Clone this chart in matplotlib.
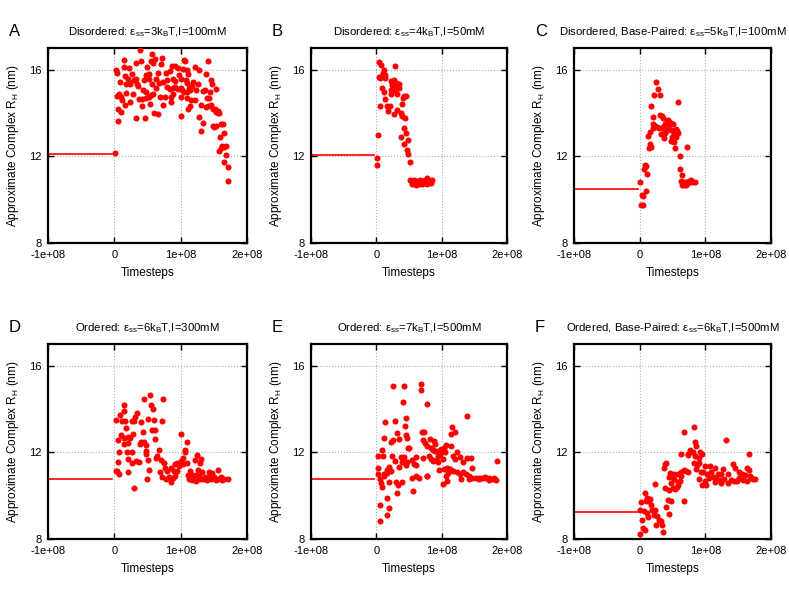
import matplotlib
matplotlib.use("Agg")
import matplotlib.pyplot as plt

plt.rcParams['font.family'] = ['Liberation Sans', 'DejaVu Sans']
plt.rcParams['mathtext.fontset'] = 'custom'
plt.rcParams['mathtext.rm'] = 'Liberation Sans'

# time in units of 1e8 timesteps, R_H in nm
tA = [0.39, 0.57, 0.72, 0.14, 0.62, 0.56, 0.33, 0.40, 0.71, 0.59, 0.49, 0.87, 0.92, 0.96, 1.05, 1.07, 1.41, 1.22,
      1.27, 1.03, 1.10, 0.03, 0.04, 0.14, 0.22, 0.84, 0.78, 0.66, 0.52, 0.48, 0.97, 1.11, 1.38, 0.16, 0.26, 0.20,
      0.29, 0.33, 0.22, 0.24, 0.09, 0.17, 0.34, 0.44, 0.52, 0.63, 0.73, 0.80, 0.89, 0.92, 1.01, 1.10, 1.19, 1.26,
      1.08, 1.45, 1.47, 0.67, 0.57, 0.36, 0.63, 0.79, 0.84, 0.88, 0.92, 0.96, 1.01, 1.13, 1.17, 1.23, 1.37, 1.44,
      1.53, 1.33, 1.02, 1.05, 1.09, 1.14, 0.07, 0.04, 0.18, 0.28, 0.43, 0.47, 0.53, 0.55, 0.58, 0.69, 0.76, 0.85,
      0.88, 1.00, 1.09, 1.15, 1.21, 1.40, 1.43, 0.10, 0.12, 0.37, 0.41, 0.48, 0.06, 0.10, 0.16, 0.23, 0.41, 0.54,
      0.73, 0.85, 1.14, 1.11, 1.30, 1.38, 1.41, 1.45, 1.48, 1.52, 1.56, 1.54, 1.57, 1.58, 1.28, 1.01, 0.60, 0.66,
      0.33, 0.46, 0.06, 1.34, 1.31, 1.49, 1.54, 1.61, 1.64, 1.51, 1.65, 1.60, 1.63, 1.65, 1.69, 1.61, 1.58, 1.68,
      1.66, 1.71, 1.72, 0.01]
rA = [16.90, 16.74, 16.56, 16.46, 16.49, 16.40, 16.31, 16.40, 16.25, 16.31, 16.12, 16.15, 16.15, 16.09, 16.43,
      16.40, 16.40, 16.12, 16.00, 16.03, 16.00, 16.00, 15.85, 16.12, 16.09, 15.94, 15.85, 15.85, 15.81, 15.75,
      15.75, 15.81, 15.78, 15.69, 15.78, 15.57, 15.51, 15.57, 15.44, 15.35, 15.41, 15.35, 15.35, 15.51, 15.57,
      15.57, 15.44, 15.54, 15.57, 15.47, 15.57, 15.38, 15.44, 15.35, 15.51, 15.51, 15.32, 15.38, 15.32, 15.26,
      15.14, 15.20, 15.10, 15.14, 15.20, 15.10, 15.14, 15.17, 15.23, 15.04, 15.04, 14.98, 15.10, 15.01, 15.04,
      14.98, 14.98, 15.04, 14.89, 14.80, 14.92, 14.89, 15.07, 14.98, 14.73, 14.83, 14.89, 14.73, 14.76, 14.73,
      14.89, 14.73, 14.67, 14.61, 14.61, 14.70, 14.67, 14.73, 14.58, 14.64, 14.64, 14.67, 14.18, 14.05, 14.36,
      14.49, 14.33, 14.42, 14.36, 14.52, 14.33, 14.18, 14.39, 14.30, 14.33, 14.36, 14.18, 14.18, 14.02, 14.05,
      14.08, 13.99, 13.81, 13.87, 13.99, 13.96, 13.75, 13.78, 13.65, 13.53, 13.19, 13.41, 13.41, 13.47, 13.47,
      13.34, 13.07, 12.88, 12.48, 12.45, 12.48, 12.39, 12.23, 12.08, 11.74, 11.49, 10.87, 12.14]

tB = [0.04, 0.07, 0.11, 0.10, 0.13, 0.04, 0.08, 0.06, 0.14, 0.29, 0.23, 0.27, 0.30, 0.34, 0.24, 0.27, 0.31, 0.34,
      0.29, 0.08, 0.11, 0.22, 0.23, 0.14, 0.32, 0.43, 0.45, 0.41, 0.06, 0.16, 0.21, 0.18, 0.27, 0.31, 0.37, 0.39,
      0.44, 0.40, 0.43, 0.45, 0.38, 0.48, 0.42, 0.47, 0.49, 0.03, 0.01, 0.01, 0.51, 0.52, 0.55, 0.59, 0.63, 0.65,
      0.68, 0.72, 0.75, 0.78, 0.81, 0.84, 0.54, 0.61, 0.70, 0.77, 0.57, 0.67, 0.74, 0.80, 0.85]
rB = [16.34, 16.22, 16.00, 15.85, 15.75, 15.66, 15.72, 15.63, 15.63, 16.18, 15.48, 15.51, 15.38, 15.32, 15.29,
      15.20, 15.17, 15.17, 15.08, 15.14, 14.95, 15.05, 14.86, 14.65, 14.86, 14.80, 14.80, 14.71, 14.34, 14.31,
      14.31, 14.09, 13.97, 14.12, 14.00, 13.88, 13.78, 14.40, 13.29, 13.08, 12.89, 12.77, 12.55, 12.31, 12.12,
      12.98, 11.91, 11.60, 11.75, 10.89, 10.80, 10.74, 10.86, 10.74, 10.80, 10.86, 10.77, 10.98, 10.86, 10.77,
      10.71, 10.68, 10.71, 10.74, 10.92, 10.92, 10.89, 10.80, 10.89]

tC = [0.25, 0.28, 0.22, 0.31, 0.59, 0.18, 0.21, 0.31, 0.34, 0.36, 0.41, 0.43, 0.45, 0.48, 0.51, 0.44, 0.39, 0.20,
      0.23, 0.26, 0.29, 0.35, 0.21, 0.37, 0.41, 0.48, 0.55, 0.57, 0.15, 0.39, 0.33, 0.53, 0.59, 0.12, 0.37, 0.49,
      0.56, 0.47, 0.53, 0.15, 0.14, 0.18, 0.54, 0.72, 0.61, 0.08, 0.07, 0.09, 0.11, 0.62, 0.64, 0.01, 0.09, 0.03,
      0.05, 0.02, 0.05, 0.63, 0.66, 0.68, 0.70, 0.73, 0.75, 0.78, 0.80, 0.84, 0.65, 0.71]
rC = [15.43, 15.12, 14.84, 14.84, 14.50, 14.32, 13.82, 13.92, 13.85, 13.79, 13.64, 13.67, 13.58, 13.54, 13.48,
      13.45, 13.51, 13.48, 13.42, 13.36, 13.30, 13.36, 13.30, 13.27, 13.20, 13.20, 13.27, 13.17, 13.14, 13.08,
      13.02, 13.02, 13.08, 12.93, 12.83, 12.90, 12.90, 12.71, 12.65, 12.56, 12.37, 12.43, 12.40, 12.43, 12.03,
      11.60, 11.41, 11.54, 11.17, 11.41, 11.14, 10.80, 10.39, 10.21, 10.15, 9.75, 9.75, 10.86, 10.80, 10.70,
      10.83, 10.76, 10.86, 10.89, 10.83, 10.83, 10.70, 10.67]

tD = [0.54, 0.44, 0.74, 0.15, 0.56, 0.59, 0.08, 0.14, 0.34, 0.31, 0.29, 0.26, 0.40, 0.51, 0.60, 0.72, 0.02, 0.12,
      0.16, 0.18, 0.57, 0.61, 0.43, 0.10, 0.05, 0.15, 0.20, 0.24, 0.28, 1.01, 0.62, 1.09, 0.40, 0.45, 0.39, 0.47,
      0.14, 0.21, 0.48, 0.47, 0.26, 0.07, 0.19, 0.68, 1.06, 1.07, 1.24, 1.30, 0.65, 0.63, 0.70, 0.75, 0.21, 0.27,
      0.32, 0.37, 0.51, 0.06, 0.92, 0.95, 1.01, 1.04, 1.09, 1.21, 1.29, 0.76, 0.80, 0.86, 0.90, 0.95, 0.98, 1.03,
      0.20, 0.04, 0.02, 0.07, 0.53, 0.69, 0.72, 0.78, 0.82, 0.85, 0.88, 0.92, 0.49, 0.29, 1.14, 1.16, 1.19, 1.26,
      1.28, 1.32, 1.37, 1.42, 1.47, 1.56, 1.12, 1.17, 1.23, 1.29, 1.34, 1.40, 1.46, 1.51, 1.57, 1.61, 1.66, 1.71,
      1.11, 1.23, 1.43, 1.53, 1.63]
rD = [14.64, 14.48, 14.45, 14.17, 14.17, 14.02, 13.71, 13.89, 13.80, 13.61, 13.43, 13.43, 13.40, 13.52, 13.49,
      13.43, 13.49, 13.46, 13.46, 13.12, 13.02, 13.02, 12.93, 12.78, 12.59, 12.65, 12.71, 12.68, 12.84, 12.84,
      12.62, 12.50, 12.47, 12.50, 12.37, 12.34, 12.40, 12.43, 12.06, 11.94, 12.03, 12.03, 12.00, 12.09, 12.12,
      12.03, 11.88, 11.69, 11.81, 11.72, 11.66, 11.53, 11.69, 11.53, 11.60, 11.57, 11.63, 11.57, 11.47, 11.50,
      11.60, 11.72, 11.53, 11.66, 11.53, 11.29, 11.16, 11.26, 11.13, 11.13, 11.35, 11.44, 11.10, 11.13, 11.16,
      11.01, 11.19, 11.07, 10.85, 10.79, 10.85, 10.64, 10.82, 10.91, 10.79, 10.36, 11.13, 10.98, 10.85, 11.19,
      10.91, 11.07, 10.88, 11.07, 11.04, 11.19, 10.76, 10.73, 10.70, 10.76, 10.79, 10.73, 10.76, 10.85, 10.79,
      10.85, 10.79, 10.76, 10.95, 10.95, 10.85, 10.73, 10.73]

tE = [0.26, 0.43, 0.69, 0.68, 0.41, 0.78, 1.39, 0.14, 0.29, 0.45, 0.44, 0.70, 0.73, 1.16, 1.15, 1.21, 0.31, 0.12,
      0.26, 0.35, 0.46, 0.47, 0.23, 0.71, 0.74, 0.82, 0.88, 0.90, 0.77, 0.84, 0.86, 0.90, 0.94, 0.99, 1.03, 1.06,
      1.14, 1.05, 0.97, 0.94, 0.50, 0.48, 0.09, 0.10, 0.02, 0.24, 0.37, 0.42, 0.60, 0.71, 0.81, 0.84, 0.91, 0.94,
      1.02, 1.18, 1.24, 1.28, 1.39, 1.45, 0.47, 0.45, 0.28, 0.34, 0.39, 0.54, 0.57, 0.61, 0.87, 1.20, 1.33, 0.02,
      0.20, 0.17, 0.16, 0.12, 0.03, 0.11, 0.22, 0.96, 1.03, 1.08, 1.13, 1.18, 1.23, 1.28, 1.32, 1.37, 1.42, 1.47,
      1.52, 1.57, 1.62, 1.67, 1.72, 1.78, 1.83, 1.84, 1.10, 1.07, 1.30, 1.42, 1.47, 0.54, 0.61, 0.65, 0.77, 0.78,
      0.20, 0.30, 0.39, 0.33, 0.07, 0.09, 1.02, 1.08, 0.56, 0.32, 0.17, 0.05, 0.20, 0.16, 0.05, 0.05, 1.72, 1.67,
      1.57, 1.80]
rE = [15.08, 15.08, 15.17, 14.86, 14.34, 14.22, 13.69, 13.38, 13.45, 13.60, 13.20, 12.95, 12.95, 13.17, 12.83,
      12.92, 12.89, 12.65, 12.58, 12.62, 12.80, 12.65, 12.46, 12.55, 12.43, 12.62, 12.52, 12.40, 12.31, 12.18,
      12.12, 12.06, 12.06, 12.15, 12.18, 12.34, 12.31, 12.00, 11.91, 11.85, 12.22, 12.18, 12.09, 11.85, 11.85,
      11.82, 11.78, 11.78, 11.78, 11.72, 11.85, 11.69, 11.66, 11.54, 11.69, 11.85, 12.00, 11.78, 11.72, 11.75,
      11.57, 11.42, 11.60, 11.32, 11.54, 11.63, 11.45, 11.42, 11.60, 11.69, 11.54, 11.29, 11.32, 11.20, 11.05,
      11.02, 11.02, 10.89, 11.14, 11.17, 11.23, 11.29, 11.23, 11.14, 11.08, 10.98, 11.08, 10.98, 10.92, 10.83,
      10.83, 10.83, 10.80, 10.80, 10.83, 10.77, 10.71, 11.60, 11.05, 10.92, 10.77, 10.77, 11.29, 10.83, 10.89,
      10.83, 10.92, 10.89, 10.65, 10.62, 10.62, 10.49, 10.58, 10.40, 10.55, 10.68, 10.22, 10.12, 9.88, 9.57,
      9.45, 9.11, 8.83, 10.77, 10.74, 10.86, 10.77, 10.83]

tF = [0.82, 0.68, 1.32, 0.85, 0.86, 0.76, 0.73, 0.63, 0.81, 0.92, 0.95, 1.66, 0.85, 0.83, 0.90, 0.87, 0.40, 0.38,
      0.37, 0.86, 0.99, 1.07, 1.14, 1.27, 1.42, 1.45, 1.52, 1.63, 1.66, 0.67, 0.71, 0.74, 0.63, 0.59, 0.53, 0.50,
      0.46, 0.44, 0.63, 0.93, 0.97, 1.03, 1.09, 1.19, 1.24, 1.35, 1.56, 1.60, 1.68, 1.72, 0.91, 1.05, 1.11, 1.16,
      1.22, 1.29, 1.39, 1.48, 1.57, 1.63, 1.70, 1.76, 0.99, 0.95, 1.01, 1.14, 1.24, 1.34, 1.44, 1.51, 0.52, 0.58,
      0.47, 0.62, 0.58, 0.24, 0.38, 0.54, 0.45, 0.51, 0.57, 0.08, 0.11, 0.15, 0.02, 0.09, 0.14, 0.43, 0.48, 0.67,
      0.18, 0.40, 0.01, 0.06, 0.11, 0.19, 0.24, 0.44, 0.22, 0.27, 0.03, 0.13, 0.29, 0.33, 0.25, 0.34, 0.05, 0.08,
      0.01, 0.36, 0.73, 0.91]
rF = [13.15, 12.96, 12.59, 12.50, 12.28, 12.09, 11.94, 11.91, 12.00, 12.00, 11.91, 11.94, 11.81, 11.53, 11.53,
      11.41, 11.53, 11.47, 11.26, 11.22, 11.38, 11.35, 11.26, 11.22, 11.44, 11.26, 11.07, 11.26, 11.19, 11.19,
      11.16, 11.07, 11.07, 10.98, 10.98, 10.91, 11.04, 10.88, 10.91, 11.10, 11.07, 10.98, 11.07, 11.01, 10.98,
      11.01, 11.01, 10.95, 10.91, 10.76, 10.79, 10.82, 10.85, 10.76, 10.73, 10.79, 10.73, 10.67, 10.73, 10.67,
      10.82, 10.79, 10.70, 10.48, 10.48, 10.64, 10.60, 10.60, 10.67, 10.82, 10.76, 10.64, 10.60, 10.67, 10.51,
      10.54, 10.36, 10.29, 10.26, 10.36, 10.42, 10.11, 9.89, 9.86, 9.71, 9.74, 9.77, 9.80, 9.74, 9.77, 9.58, 9.49,
      9.36, 9.27, 9.18, 9.36, 9.33, 9.15, 9.12, 9.05, 8.90, 9.02, 8.87, 8.84, 8.65, 8.65, 8.50, 8.40, 8.22, 8.31,
      11.88, 11.75]

# R_H of the separated molecules, drawn as a line before t=0
r_start = [12.1, 12.05, 10.5, 10.75, 10.75, 9.25]

letters = ['A', 'B', 'C', 'D', 'E', 'F']
titles = [r'Disordered: ε$_\mathregular{ss}$=3k$_\mathregular{B}$T,I=100mM',
          r'Disordered: ε$_\mathregular{ss}$=4k$_\mathregular{B}$T,I=50mM',
          r'Disordered, Base-Paired: ε$_\mathregular{ss}$=5k$_\mathregular{B}$T,I=100mM',
          r'Ordered: ε$_\mathregular{ss}$=6k$_\mathregular{B}$T,I=300mM',
          r'Ordered: ε$_\mathregular{ss}$=7k$_\mathregular{B}$T,I=500mM',
          r'Ordered, Base-Paired: ε$_\mathregular{ss}$=6k$_\mathregular{B}$T,I=500mM']
times = [tA, tB, tC, tD, tE, tF]
radii = [rA, rB, rC, rD, rE, rF]

xticks = [-1e8, 0, 1e8, 2e8]
xticklabels = ['-1e+08', '0', '1e+08', '2e+08']
yticks = [8, 12, 16]

fig = plt.figure(figsize=(7.89, 5.92), dpi=100)

lefts = [48, 311, 574]
widths = [199, 196, 197]
tops = [48, 344]
H = 195

for i in range(6):
    row, col = divmod(i, 3)
    ax = fig.add_axes([lefts[col] / 789, 1 - (tops[row] + H) / 592, widths[col] / 789, H / 592])

    ax.grid(True, color='#b0b0b0', linestyle=':', linewidth=0.8)
    ax.set_axisbelow(True)

    ax.plot([-1e8, -0.03e8], [r_start[i], r_start[i]], color='red', lw=1.2, zorder=2)
    ax.scatter([t * 1e8 for t in times[i]], radii[i], s=19, color='red', linewidths=0, zorder=3)

    ax.set_xlim(-1e8, 2e8)
    ax.set_ylim(8, 17)
    ax.set_xticks(xticks)
    ax.set_xticklabels(xticklabels)
    ax.set_yticks(yticks)
    ax.tick_params(direction='in', top=True, right=True, length=4, width=1, labelsize=8)
    ax.tick_params(axis='x', pad=5)
    ax.tick_params(axis='y', pad=4.5)
    for sp in ax.spines.values():
        sp.set_linewidth(1.6)

    ax.set_xlabel('Timesteps', fontsize=8.5, labelpad=5)
    ax.set_ylabel(r'Approximate Complex R$_\mathregular{H}$ (nm)', fontsize=8.5, labelpad=6)
    ax.set_title(titles[i], fontsize=8.2, pad=9)

    fig.text((lefts[col] - 39) / 789, 1 - (tops[row] - 24) / 592, letters[i],
             fontsize=12, ha='left', va='top')

fig.savefig('out.png', dpi=100)
